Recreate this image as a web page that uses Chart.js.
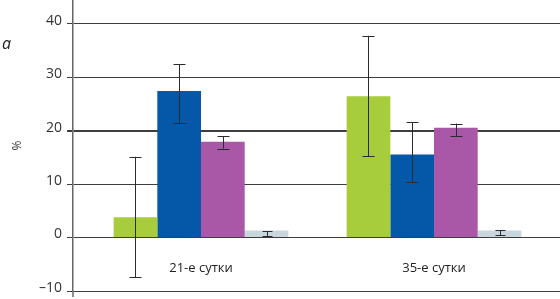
<!DOCTYPE html>
<html><head><meta charset="utf-8">
<script src="https://cdn.jsdelivr.net/npm/chart.js@4/dist/chart.umd.min.js"></script>
<style>html,body{margin:0;padding:0;background:#fff}#wrap{width:560px;height:299px;position:relative}</style>
</head><body><div id="wrap"><canvas id="c" width="560" height="299"></canvas></div>
<script>
// ---- data ----
const categories = ['21-е сутки', '35-е сутки'];
const seriesNames = ['Серия 1', 'Серия 2', 'Серия 3', 'Серия 4'];
const greenValues = [3.8, 26.4];
const blueValues = [27.4, 15.5];
const purpleValues = [17.9, 20.5];
const greyValues = [1.3, 1.3];
const greenErrLow = [-7.4, 15.2];
const greenErrHigh = [15.1, 37.7];
const blueErrLow = [21.4, 10.3];
const blueErrHigh = [32.4, 21.6];
const purpleErrLow = [16.6, 19.0];
const purpleErrHigh = [18.9, 21.3];
const greyErrLow = [0.2, 0.4];
const greyErrHigh = [1.2, 1.4];
const yTicks = [-10, 0, 10, 20, 30, 40];
const panelLetter = 'a';
const yTitle = '%';

const colors = ['#a7cd3c', '#0558a8', '#a957a7', '#c9d6de'];
const values = [greenValues, blueValues, purpleValues, greyValues];
const lows = [greenErrLow, blueErrLow, purpleErrLow, greyErrLow];
const highs = [greenErrHigh, blueErrHigh, purpleErrHigh, greyErrHigh];

const FONT = '"Open Sans", "DejaVu Sans", sans-serif';

const datasets = values.map((arr, k) => ({
  label: seriesNames[k],
  data: arr.map((v, i) => ({x: i + 1, y: v})),
  backgroundColor: colors[k],
  borderWidth: 0,
  errLow: lows[k],
  errHigh: highs[k]
}));

const errorBars = {
  id: 'errorBars',
  afterDatasetsDraw(chart) {
    const ctx = chart.ctx;
    const ys = chart.scales.y;
    ctx.save();
    ctx.strokeStyle = '#2b2b2b';
    ctx.lineWidth = 1;
    chart.data.datasets.forEach((ds, di) => {
      const meta = chart.getDatasetMeta(di);
      meta.data.forEach((el, i) => {
        const x = Math.round(el.x) + 0.5;
        const y1 = ys.getPixelForValue(ds.errLow[i]);
        const y2 = ys.getPixelForValue(ds.errHigh[i]);
        const cw = di === 3 ? 5 : 6;
        ctx.beginPath();
        ctx.moveTo(x, y1); ctx.lineTo(x, y2);
        ctx.moveTo(x - cw, Math.round(y1) + 0.5); ctx.lineTo(x + cw, Math.round(y1) + 0.5);
        ctx.moveTo(x - cw, Math.round(y2) + 0.5); ctx.lineTo(x + cw, Math.round(y2) + 0.5);
        ctx.stroke();
      });
    });
    ctx.restore();
  }
};

const extras = {
  id: 'extras',
  afterDraw(chart) {
    const ctx = chart.ctx;
    const xs = chart.scales.x, ys = chart.scales.y;
    const area = chart.chartArea;
    ctx.save();
    ctx.fillStyle = '#222';
    ctx.font = '13px ' + FONT;
    ctx.textAlign = 'center';
    ctx.textBaseline = 'middle';
    categories.forEach((c, i) => {
      ctx.fillText(c, xs.getPixelForValue(i + 1), ys.getPixelForValue(0) + 31);
    });
    ctx.font = 'italic 16px ' + FONT;
    ctx.textAlign = 'left';
    ctx.fillText(panelLetter, 2, 44);
    ctx.strokeStyle = '#666';
    ctx.lineWidth = 1.5;
    ctx.beginPath();
    ctx.moveTo(area.left, area.bottom);
    ctx.lineTo(area.left, area.bottom + 6);
    ctx.stroke();
    ctx.restore();
  }
};

new Chart(document.getElementById('c'), {
  type: 'bar',
  data: { datasets },
  plugins: [errorBars, extras],
  options: {
    responsive: false,
    animation: false,
    devicePixelRatio: 1,
    categoryPercentage: 0.75,
    barPercentage: 1,
    layout: { padding: { top: 0, right: 0, bottom: 8, left: 0 } },
    plugins: { legend: { display: false }, tooltip: { enabled: false } },
    scales: {
      x: {
        type: 'linear',
        min: 0.4506,
        max: 2.5408,
        offset: false,
        display: false,
        afterBuildTicks: (s) => { s.ticks = categories.map((c, i) => ({ value: i + 1 })); }
      },
      y: {
        min: -10,
        max: 44.4,
        afterBuildTicks: (s) => { s.ticks = yTicks.map(v => ({ value: v })); },
        afterFit: (s) => { s.width = 73; s.paddingTop = 0; s.paddingBottom = 0; },
        border: { display: true, color: '#666', width: 1.5 },
        grid: {
          color: '#3d3d3d',
          lineWidth: (c) => (c.tick && c.tick.value === 20 ? 2 : 1),
          tickLength: 6,
          drawTicks: true
        },
        ticks: {
          color: '#333',
          font: { family: FONT, size: 14 },
          padding: 5,
          labelOffset: -3,
          callback: (v) => (v < 0 ? '\u2013' + Math.abs(v) : String(v))
        },
        title: {
          display: true,
          text: yTitle,
          color: '#333',
          font: { family: FONT, size: 12 },
          padding: { top: 10, bottom: 0 }
        }
      }
    }
  }
});
</script>
</body></html>
